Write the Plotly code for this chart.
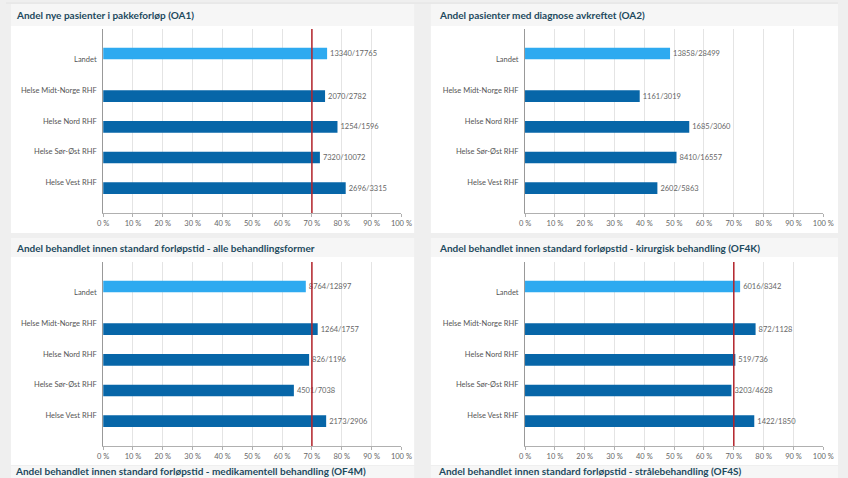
import plotly.graph_objects as go

W, H = 848, 478

regions = ["Landet", "Helse Midt-Norge RHF", "Helse Nord RHF", "Helse Sør-Øst RHF", "Helse Vest RHF"]

titles = [
    "Andel nye pasienter i pakkeforløp (OA1)",
    "Andel pasienter med diagnose avkreftet (OA2)",
    "Andel behandlet innen standard forløpstid - alle behandlingsformer",
    "Andel behandlet innen standard forløpstid - kirurgisk behandling (OF4K)",
]
next_titles = [
    "Andel behandlet innen standard forløpstid - medikamentell behandling (OF4M)",
    "Andel behandlet innen standard forløpstid - strålebehandling (OF4S)",
]

oa1_num = [13340, 2070, 1254, 7320, 2696]
oa1_den = [17765, 2782, 1596, 10072, 3315]
oa2_num = [13858, 1161, 1685, 8410, 2602]
oa2_den = [28499, 3019, 3060, 16557, 5863]
of4_num = [8764, 1264, 826, 4501, 2173]
of4_den = [12897, 1757, 1196, 7038, 2906]
of4k_num = [6016, 872, 519, 3203, 1422]
of4k_den = [8342, 1128, 736, 4628, 1850]

targets = [70, None, 70, 70]

x_ticks = [0, 10, 20, 30, 40, 50, 60, 70, 80, 90, 100]
x_tick_labels = ["0 %", "10 %", "20 %", "30 %", "40 %", "50 %", "60 %", "70 %", "80 %", "90 %", "100 %"]

panels = [(oa1_num, oa1_den), (oa2_num, oa2_den), (of4_num, of4_den), (of4k_num, of4k_den)]

LIGHT = "#2eaaf0"
DARK = "#0766a8"
FONT = "Lato"
BAR_W = 0.38

def px(x):
    return x / W

def py(y):
    return 1 - y / H

# plot areas in pixels: (x0, x1, ytop, ybottom)
areas = [
    (99, 403, 29, 213),
    (529, 833, 29, 213),
    (99, 403, 262, 446),
    (529, 833, 262, 446),
]

fig = go.Figure()
shapes = []
annotations = []

for i, ((num, den), (x0, x1, yt, yb)) in enumerate(zip(panels, areas)):
    n = "" if i == 0 else str(i + 1)
    pct = [100.0 * a / b for a, b in zip(num, den)]
    txt = [f"{a}/{b}" for a, b in zip(num, den)]
    # first series (national) sits in the upper half of its slot, regions in the lower half
    fig.add_trace(go.Bar(
        orientation="h", y=regions[:1], x=pct[:1], text=txt[:1],
        marker=dict(color=LIGHT, line=dict(width=0)),
        width=BAR_W, offset=-BAR_W - 0.01,
        xaxis="x" + n, yaxis="y" + n,
        textposition="outside", cliponaxis=False,
        textfont=dict(family=FONT, size=7.5, color="#666666"),
        hoverinfo="skip", showlegend=False,
    ))
    fig.add_trace(go.Bar(
        orientation="h", y=regions[1:], x=pct[1:], text=txt[1:],
        marker=dict(color=DARK, line=dict(width=0)),
        width=BAR_W, offset=0.0,
        xaxis="x" + n, yaxis="y" + n,
        textposition="outside", cliponaxis=False,
        textfont=dict(family=FONT, size=7.5, color="#666666"),
        hoverinfo="skip", showlegend=False,
    ))
    xa = dict(
        domain=[px(x0), px(x1)], range=[0, 100], anchor="y" + n,
        tickmode="array", tickvals=x_ticks, ticktext=x_tick_labels,
        showgrid=True, gridcolor="#e4e4e4",
        zeroline=False, showline=True, linecolor="#b0b0b0", ticks="outside",
        ticklen=3, tickcolor="#b0b0b0", fixedrange=True,
        tickfont=dict(family=FONT, size=7.5, color="#666666"),
    )
    ya = dict(
        domain=[py(yb), py(yt)], range=[5, -1], anchor="x" + n,
        type="category", categoryorder="array", categoryarray=regions,
        showgrid=False, zeroline=False, showline=True, linecolor="#999999",
        ticks="", ticklabelstandoff=4, fixedrange=True,
        tickfont=dict(family=FONT, size=7.5, color="#555555"),
    )
    fig.update_layout(**{"xaxis" + n: xa, "yaxis" + n: ya})
    if targets[i] is not None:
        shapes.append(dict(
            type="line", xref="x" + n, yref="y" + n + " domain",
            x0=targets[i], x1=targets[i], y0=0, y1=1,
            line=dict(color="#b3232b", width=1.5), layer="above",
        ))

# panel backgrounds
panel_boxes = [
    # (x0, x1, band_top, band_bottom, white_bottom)
    (5, 416, 4, 26, 233),
    (433, 848, 4, 26, 233),
    (5, 416, 238, 257, 465),
    (433, 848, 238, 257, 465),
    (5, 416, 466, 490, 490),
    (433, 848, 466, 490, 490),
]
bg_shapes = []
for (bx0, bx1, bt, bb, wb) in panel_boxes:
    bg_shapes.append(dict(type="rect", xref="paper", yref="paper",
                          x0=px(bx0), x1=px(bx1), y0=py(bb), y1=py(bt),
                          fillcolor="#f6f6f6", line_width=0, layer="below"))
    if wb > bb:
        bg_shapes.append(dict(type="rect", xref="paper", yref="paper",
                              x0=px(bx0), x1=px(bx1), y0=py(wb), y1=py(bb),
                              fillcolor="#ffffff", line_width=0, layer="below"))
bg_shapes.append(dict(type="line", xref="paper", yref="paper",
                      x0=0, x1=1, y0=py(3), y1=py(3),
                      line=dict(color="#e2e2e2", width=1), layer="below"))

title_pos = [(8, 15.5), (439, 15.5), (8, 247.5), (439, 247.5)]
for t, (tx, ty) in zip(titles, title_pos):
    annotations.append(dict(
        text=t, xref="paper", yref="paper", x=px(tx), y=py(ty),
        xanchor="left", yanchor="middle", showarrow=False,
        font=dict(family=FONT, size=10, color="#1d4a5e", weight="bold"),
    ))
for t, tx in zip(next_titles, [8, 439]):
    annotations.append(dict(
        text=t, xref="paper", yref="paper", x=px(tx), y=0,
        xanchor="left", yanchor="bottom", showarrow=False, borderpad=0,
        font=dict(family=FONT, size=10, color="#1d4a5e", weight="bold"),
    ))

fig.update_layout(
    width=W, height=H, margin=dict(l=0, r=0, t=0, b=0),
    paper_bgcolor="#efefef", plot_bgcolor="rgba(0,0,0,0)",
    barmode="overlay",
    shapes=bg_shapes + shapes, annotations=annotations,
    font=dict(family=FONT),
)

fig.write_html("out.html", config={"displayModeBar": False})
